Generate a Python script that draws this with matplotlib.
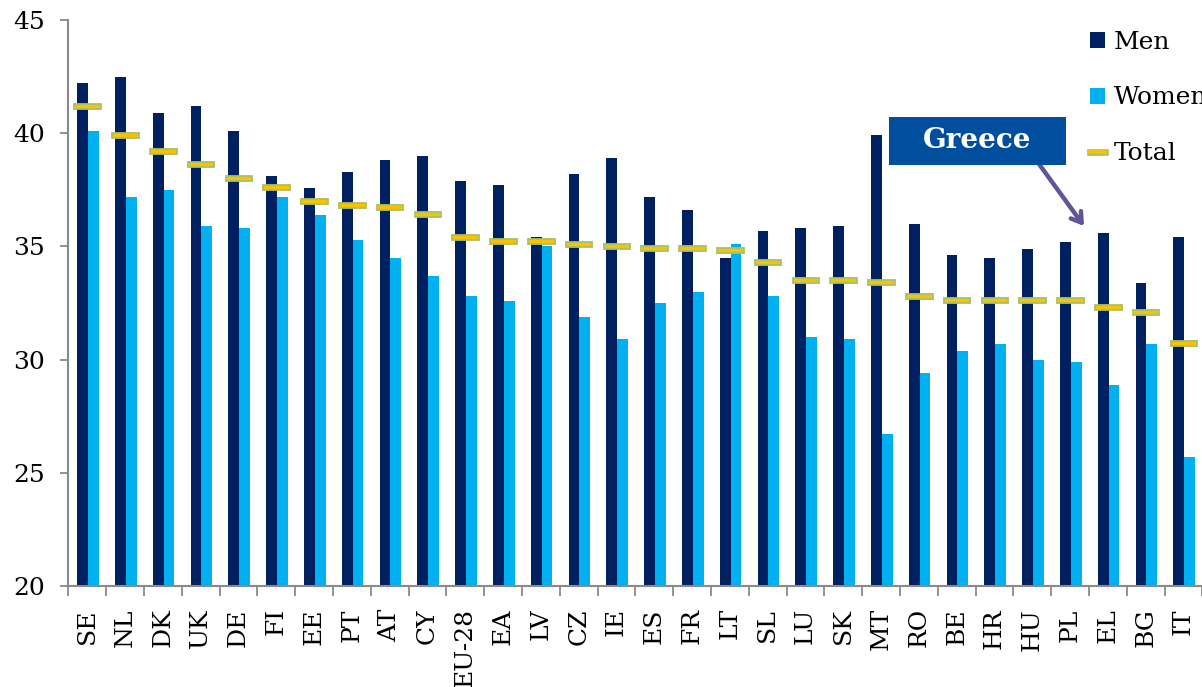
import numpy as np
import matplotlib
matplotlib.use("Agg")
import matplotlib.pyplot as plt
from matplotlib.patches import Patch, Rectangle
from matplotlib.lines import Line2D
import matplotlib.patheffects as pe

# Average usual weekly hours, by country
countries = ["SE", "NL", "DK", "UK", "DE", "FI", "EE", "PT", "AT", "CY",
             "EU-28", "EA", "LV", "CZ", "IE", "ES", "FR", "LT", "SL", "LU",
             "SK", "MT", "RO", "BE", "HR", "HU", "PL", "EL", "BG", "IT"]
men = [42.2, 42.5, 40.9, 41.2, 40.1, 38.1, 37.6, 38.3, 38.8, 39.0,
       37.9, 37.7, 35.4, 38.2, 38.9, 37.2, 36.6, 34.5, 35.7, 35.8,
       35.9, 39.9, 36.0, 34.6, 34.5, 34.9, 35.2, 35.6, 33.4, 35.4]
women = [40.1, 37.2, 37.5, 35.9, 35.8, 37.2, 36.4, 35.3, 34.5, 33.7,
         32.8, 32.6, 35.0, 31.9, 30.9, 32.5, 33.0, 35.1, 32.8, 31.0,
         30.9, 26.7, 29.4, 30.4, 30.7, 30.0, 29.9, 28.9, 30.7, 25.7]
total = [41.2, 39.9, 39.2, 38.6, 38.0, 37.6, 37.0, 36.8, 36.7, 36.4,
         35.4, 35.2, 35.2, 35.1, 35.0, 34.9, 34.9, 34.8, 34.3, 33.5,
         33.5, 33.4, 32.8, 32.6, 32.6, 32.6, 32.6, 32.3, 32.1, 30.7]
y_ticks = [20, 25, 30, 35, 40, 45]

MEN_C = "#002060"
WOMEN_C = "#00B0F0"
TOTAL_C = "#FFC000"
TOTAL_EDGE = "#A5C266"
AXIS_C = "#8A8A8A"

plt.rcParams["font.family"] = ["DejaVu Serif"]

fig = plt.figure(figsize=(12.02, 6.87), dpi=100)
W, H = 1202, 687
ax = fig.add_axes([68.4 / W, (H - 586) / H, (1202.4 - 68.4) / W, 566 / H])

x = np.arange(len(countries))
bw = 0.285
ax.bar(x - 0.125, men, width=bw, color=MEN_C, zorder=2)
ax.bar(x + 0.16, women, width=bw, color=WOMEN_C, zorder=2)

# total shown as a short yellow dash with green outline
dash_h = 0.22
ax.bar(x + 0.01, dash_h, bottom=np.array(total) - dash_h / 2, width=0.7,
       color=TOTAL_C, edgecolor=TOTAL_EDGE, linewidth=1.3, zorder=3)

ax.set_xlim(-0.5, len(countries) - 0.5)
ax.set_ylim(20, 45)
ax.set_yticks(y_ticks)
ax.tick_params(axis="y", labelsize=18, length=6, width=1.3, color=AXIS_C, pad=11)

ax.set_xticks(x)
ax.set_xticklabels(countries, rotation=90, fontsize=18)
ax.set_xticks(np.arange(-0.5, len(countries), 1), minor=True)
ax.tick_params(axis="x", which="major", length=0, pad=16)
ax.tick_params(axis="x", which="minor", length=7, width=1.3, color=AXIS_C)

for side in ["top", "right"]:
    ax.spines[side].set_visible(False)
for side in ["left", "bottom"]:
    ax.spines[side].set_color(AXIS_C)
    ax.spines[side].set_linewidth(1.5)

handles = [
    Patch(facecolor=MEN_C, label="Men"),
    Patch(facecolor=WOMEN_C, label="Women"),
    Line2D([], [], color=TOTAL_C, lw=2.6, label="Total",
           path_effects=[pe.Stroke(linewidth=4.8, foreground=TOTAL_EDGE), pe.Normal()]),
]
fig.legend(handles=handles, loc="upper left", bbox_to_anchor=(1090 / W, 1 - 31 / H),
           frameon=False, fontsize=18, handlelength=0.6, handleheight=0.6,
           handletextpad=0.35, labelspacing=1.3, borderpad=0, borderaxespad=0)

# Greece call-out box and arrow
fig.patches.append(Rectangle((889 / W, 1 - 164.7 / H), 177 / W, 47.4 / H,
                             transform=fig.transFigure, facecolor="#004F9E",
                             edgecolor="none", zorder=5))
fig.text(977 / W, 1 - 141 / H, "Greece", color="white", fontsize=20,
         fontweight="bold", ha="center", va="center", zorder=6)
ax.annotate("", xy=(1084, H - 226), xycoords="figure pixels",
            xytext=(1039, H - 164), textcoords="figure pixels",
            arrowprops=dict(arrowstyle="->,head_length=0.7,head_width=0.45",
                            color="#5F5597", lw=3.2, shrinkA=0, shrinkB=0))

fig.savefig("out.png", dpi=100)
